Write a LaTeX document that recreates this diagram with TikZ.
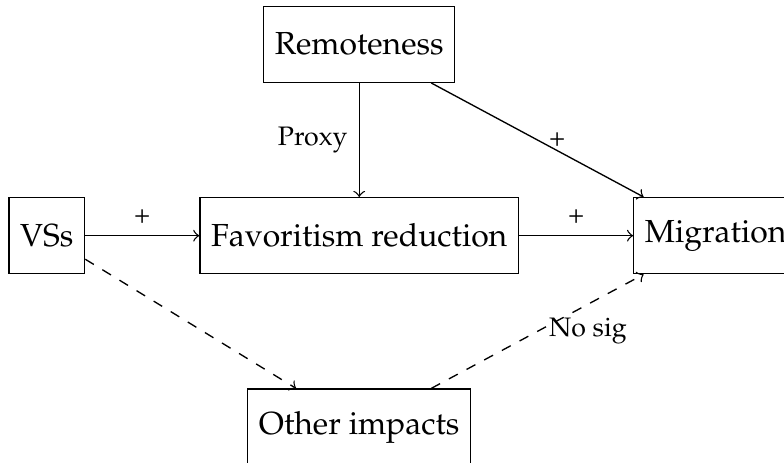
\documentclass[tikz,border=0pt]{standalone}
\usepackage[T1]{fontenc}
\usepackage{mathpazo}
\usepackage{tikz}
\usetikzlibrary{positioning}

\begin{document}
\begin{tikzpicture}[node distance=1.2cm,
	box/.style={draw, rectangle, minimum height=0.8cm, font=\fontsize{9.55}{11}\selectfont},
	lab/.style={font=\footnotesize}]
\clip (-3.78,2.48) rectangle (4.47,-2.39);
\node [box] (2) at (0,0) {Favoritism reduction};
\node [box, left=of 2] (1) {VSs};
\node [box, right=of 2] (3) {Migration};
\node [box, above=of 2] (0) {Remoteness};
\node [box, below=of 2] (4) {Other impacts};
\draw [->] (1) to node [lab, above] {+} (2);
\draw [->] (2) to node [lab, above] {+} (3);
\draw [->] (0) to node [lab, left] {Proxy} (2);
\draw [->] (0) to node [lab, right] {+} (3);
\draw [->, dashed] (1) to (4);
\draw [->, dashed] (4) to node [lab, right] {No sig} (3);
\end{tikzpicture}
\end{document}
